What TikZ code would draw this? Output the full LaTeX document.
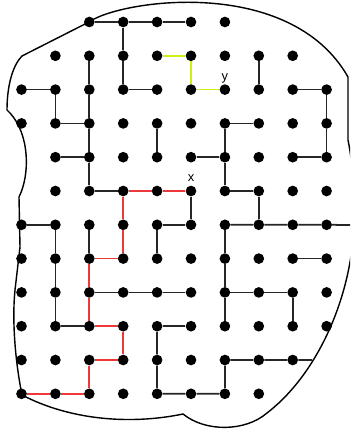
\documentclass[tikz,border=0pt]{standalone}
\usepackage{fontspec}
\setsansfont{Liberation Sans}
\usetikzlibrary{positioning}
\definecolor{mzred}{RGB}{236,56,56}
\definecolor{mzlime}{RGB}{204,240,24}
\tikzset{
    mz dot/.style={circle, fill=black, inner sep=0pt, minimum size=0.32cm},
    mz wall/.style={line width=1.5pt, black!85},
    mz route/.style={line width=1.5pt, mzred},
    mz hint/.style={line width=1.5pt, mzlime},
    mz rim/.style={line width=1.2pt, black},
    mz label/.style={inner sep=0pt, font=\sffamily\fontsize{11}{13}\selectfont},
}
\begin{document}
\begin{tikzpicture}[x=0.03cm, y=-0.03cm]
    \useasboundingbox (0,0) rectangle (350,431);
    \clip (0,0) rectangle (350,431);
    \def\gx{33.9}
    \def\gy{33.8}
    % Outer border
    \draw[mz rim] (89,22) .. controls (120,0) and (290,-25) .. (348,77)
        -- (348,140) .. controls (356,180) and (356,230) .. (350,262)
        .. controls (340,320) and (310,380) .. (267,413)
        .. controls (245,432) and (205,432) .. (183,414)
        .. controls (130,425) and (70,420) .. (22,395)
        .. controls (15,360) and (12,320) .. (15,290)
        -- (20,247) -- (19,197)
        .. controls (30,175) and (30,135) .. (10,113) -- (7,110)
        .. controls (7,85) and (13,65) .. (22,56) -- cycle;
    % Dots, row by row: row/first column/last column
    \foreach \r/\a/\b in {0/2/6, 1/1/8, 2/0/9, 3/0/9, 4/1/9, 5/1/9,
                          6/0/9, 7/0/9, 8/0/9, 9/0/9, 10/0/8, 11/0/7} {
        \foreach \c in {\a,...,\b} {
            \node[mz dot] (p-\c-\r) at ({21.5+\gx*\c}, {22+\gy*\r}) {};
        }
    }
    % Free ends on the border
    \coordinate (rim-e)  at (353,225);
    \coordinate (rim-se) at (312,360);
    % Walls
    \draw[mz wall] (p-2-0) -- (p-3-0) -- (p-4-0) -- (p-5-0);
    \draw[mz wall] (p-3-0) -- (p-3-1) -- (p-3-2) -- (p-4-2);
    \draw[mz wall] (p-0-2) -- (p-1-2) -- (p-1-3) -- (p-2-3);
    \draw[mz wall] (p-2-1) -- (p-2-2) -- (p-2-3) -- (p-2-4) -- (p-2-5) -- (p-3-5);
    \draw[mz wall] (p-1-4) -- (p-2-4);
    \draw[mz wall] (p-4-3) -- (p-4-4);
    \draw[mz wall] (p-7-1) -- (p-7-2);
    \draw[mz wall] (p-8-2) -- (p-9-2) -- (p-9-3) -- (p-9-4) -- (p-8-4);
    \draw[mz wall] (p-7-3) -- (p-6-3) -- (p-6-4) -- (p-6-5) -- (p-7-5) -- (p-7-6);
    \draw[mz wall] (p-5-4) -- (p-6-4);
    \draw[mz wall] (p-5-5) -- (p-5-6) -- (p-4-6) -- (p-4-7);
    \draw[mz wall] (p-6-6) -- (p-7-6) -- (p-8-6) -- (p-9-6) -- (rim-e);
    \draw[mz wall] (p-6-6) -- (p-6-7) -- (p-6-8) -- (p-6-9);
    \draw[mz wall] (p-6-8) -- (p-7-8) -- (p-8-8) -- (p-8-9);
    \draw[mz wall] (p-8-7) -- (p-9-7);
    \draw[mz wall] (p-0-6) -- (p-1-6) -- (p-1-7) -- (p-1-8) -- (p-1-9) -- (p-2-9);
    \draw[mz wall] (p-2-6) -- (p-2-7);
    \draw[mz wall] (p-2-8) -- (p-3-8) -- (p-4-8) -- (p-5-8);
    \draw[mz wall] (p-4-9) -- (p-5-9);
    \draw[mz wall] (p-4-9) -- (p-4-10) -- (p-4-11) -- (p-5-11) -- (p-6-11)
        -- (p-6-10) -- (p-7-10) -- (p-8-10) -- (rim-se);
    % Route from x
    \draw[mz route] (p-5-5) -- (p-4-5) -- (p-3-5) -- (p-3-6) -- (p-3-7)
        -- (p-2-7) -- (p-2-8) -- (p-2-9) -- (p-3-9) -- (p-3-10)
        -- (p-2-10) -- (p-2-11) -- (p-1-11) -- (p-0-11);
    % Route to y
    \draw[mz hint] (p-4-1) -- (p-5-1) -- (p-5-2) -- (p-6-2);
    % Labels
    \node[mz label, above=0.12cm of p-5-5] (lbl-x) {x};
    \node[mz label, above=0.02cm of p-6-2] (lbl-y) {y};
\end{tikzpicture}
\end{document}
